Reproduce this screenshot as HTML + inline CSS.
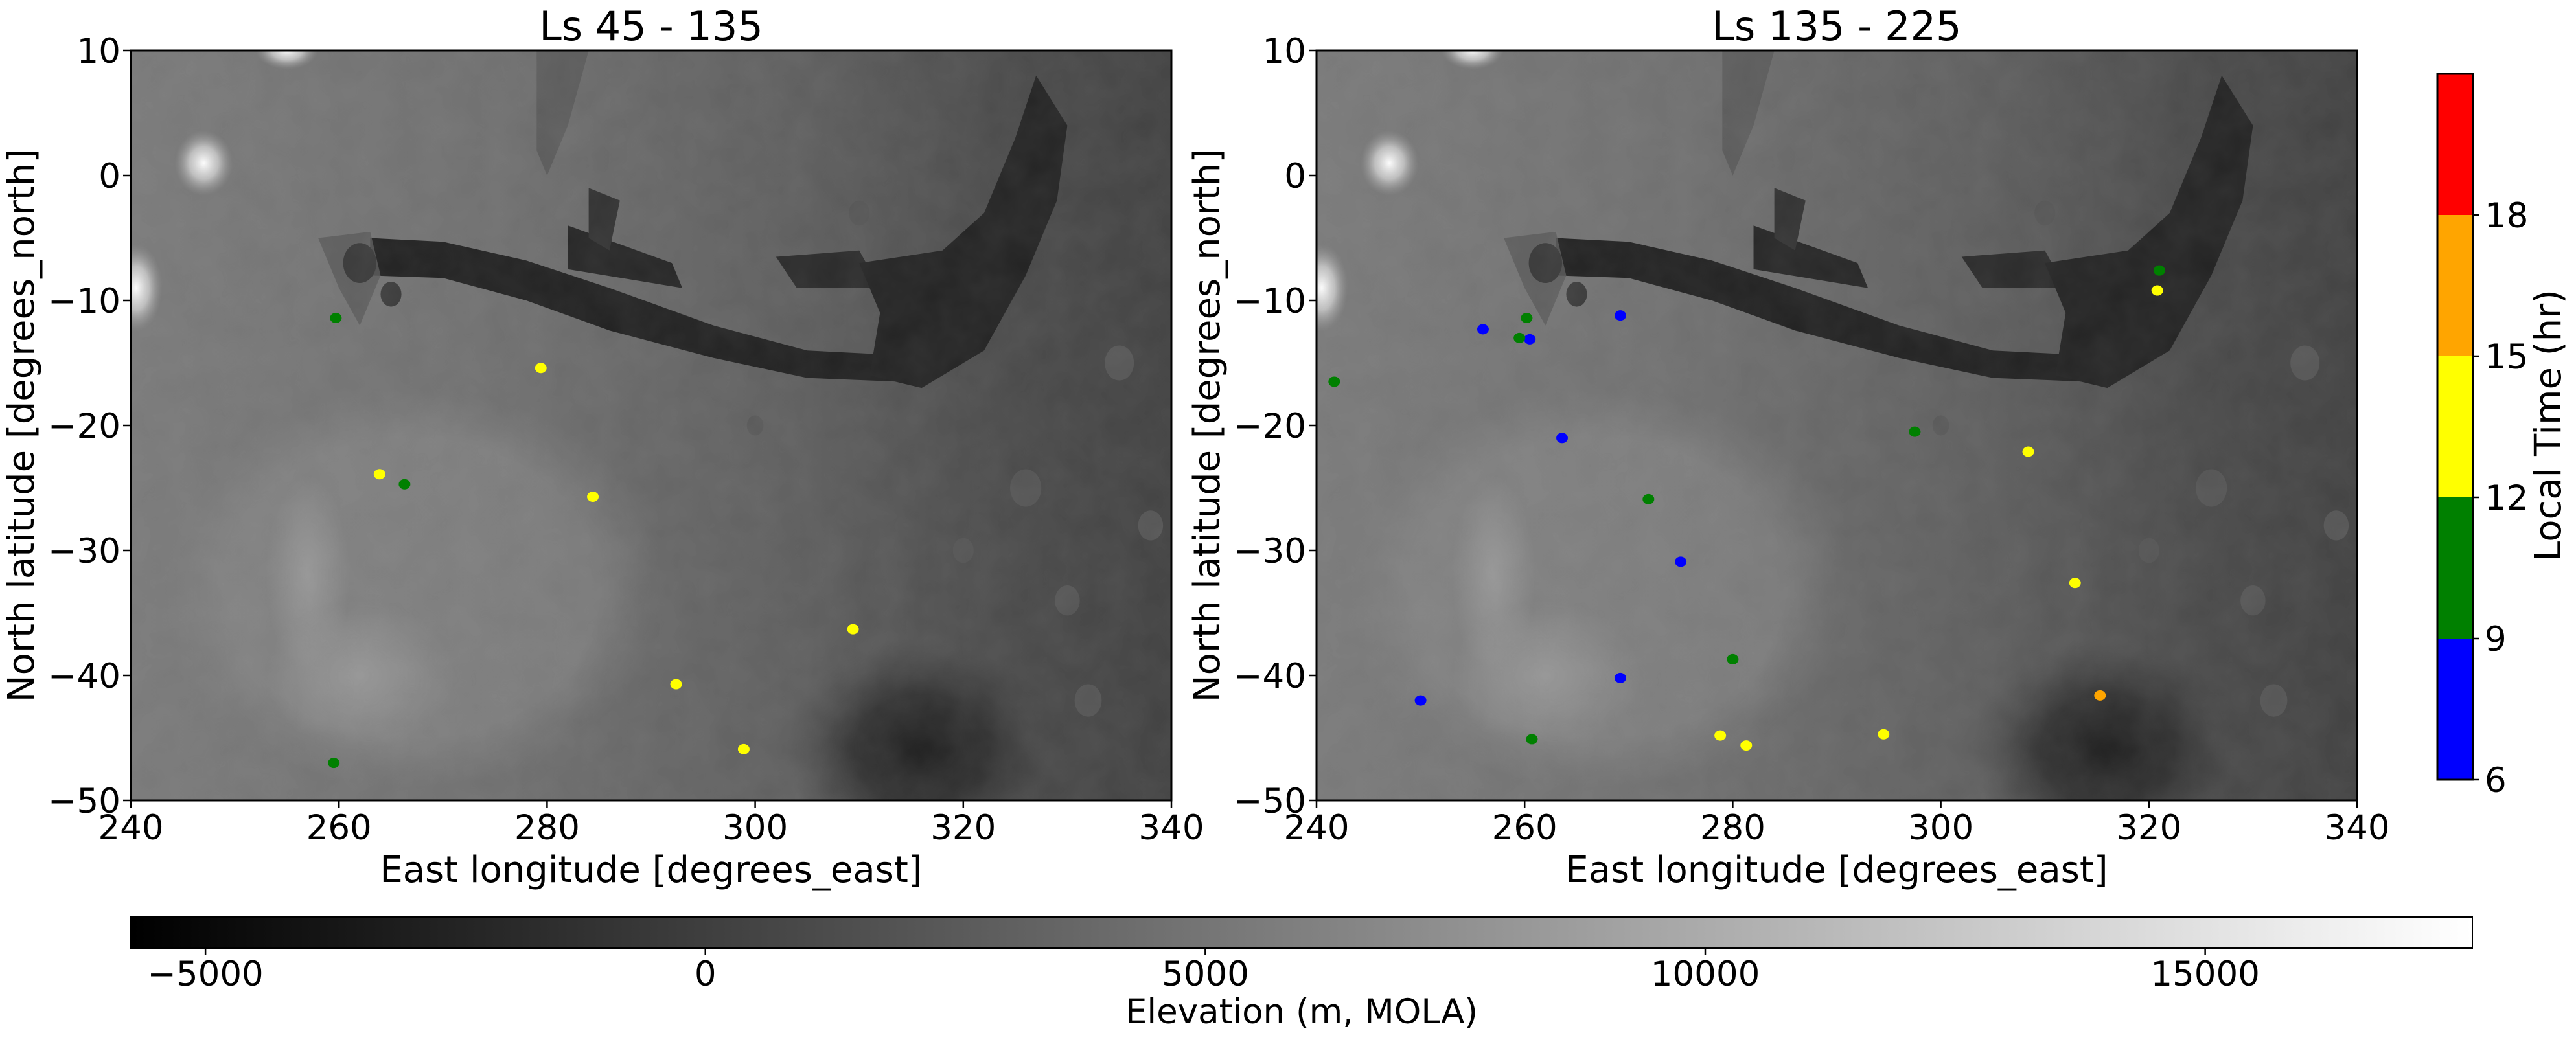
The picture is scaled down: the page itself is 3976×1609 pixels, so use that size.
<!DOCTYPE html>
<html><head><meta charset="utf-8"><style>
html,body{margin:0;padding:0;background:#fff;}
svg{display:block;font-family:"DejaVu Sans","Liberation Sans",sans-serif;}
</style></head><body>
<svg id="fig" width="3976" height="1609" viewBox="0 0 3976 1609">
<defs>
<linearGradient id="baseG" x1="0" y1="0" x2="1" y2="0">
<stop offset="0" stop-color="#7a7a7a"/><stop offset="0.35" stop-color="#707070"/><stop offset="0.65" stop-color="#5e5e5e"/><stop offset="0.85" stop-color="#4a4a4a"/><stop offset="1" stop-color="#424242"/></linearGradient>
<radialGradient id="brightG"><stop offset="0" stop-color="#fff"/><stop offset="0.5" stop-color="#d0d0d0" stop-opacity="0.8"/><stop offset="1" stop-color="#999" stop-opacity="0"/></radialGradient>
<radialGradient id="plateauG"><stop offset="0" stop-color="#8a8a8a" stop-opacity="0.5"/><stop offset="0.75" stop-color="#8e8e8e" stop-opacity="0.45"/><stop offset="1" stop-color="#888" stop-opacity="0"/></radialGradient>
<radialGradient id="lightG"><stop offset="0" stop-color="#a0a0a0" stop-opacity="0.7"/><stop offset="1" stop-color="#a0a0a0" stop-opacity="0"/></radialGradient>
<radialGradient id="basinG"><stop offset="0" stop-color="#1e1e1e"/><stop offset="0.5" stop-color="#2e2e2e" stop-opacity="0.85"/><stop offset="1" stop-color="#444" stop-opacity="0"/></radialGradient>
<filter id="noise"><feTurbulence type="fractalNoise" baseFrequency="0.02" numOctaves="3" seed="4"/><feColorMatrix type="matrix" values="0 0 0 0 0.5  0 0 0 0 0.5  0 0 0 0 0.5  0 0 0 0.25 0"/></filter>
<clipPath id="clipP"><rect x="0" y="0" width="1606" height="1158"/></clipPath>
<linearGradient id="elevG" x1="0" y1="0" x2="1" y2="0"><stop offset="0" stop-color="#000"/><stop offset="1" stop-color="#fff"/></linearGradient>
<g id="mapBg">
<rect x="0" y="0" width="1606" height="1158" fill="url(#baseG)"/>
<g transform="matrix(16.06,0,0,-19.3,-3854.4,193)">
<ellipse cx="267" cy="-33" rx="24" ry="16" fill="url(#plateauG)"/>
<ellipse cx="262" cy="-40" rx="9" ry="6" fill="url(#lightG)"/>
<ellipse cx="257" cy="-32" rx="4" ry="8" fill="url(#lightG)"/>
<ellipse cx="247" cy="1" rx="2.8" ry="2.6" fill="url(#brightG)"/>
<ellipse cx="240.5" cy="-9" rx="2.5" ry="3.5" fill="url(#brightG)"/>
<ellipse cx="255" cy="10" rx="3" ry="1.5" fill="url(#brightG)"/>
<ellipse cx="316" cy="-46" rx="13" ry="9" fill="url(#basinG)"/>
<polygon points="279,10 284,10 282,4 280,0 279,2" fill="#555" opacity="0.7"/>
<polygon points="263,-5 270,-5.3 278,-6.8 286,-9 296,-12 305,-14 312,-14.3 316,-13 314,-16.5 305,-16.2 296,-14.6 286,-12.4 278,-10 270,-8.2 263,-8" fill="#222"/>
<polygon points="282,-4 292,-7 293,-9 282,-7.5" fill="#262626"/>
<polygon points="302,-6.5 310,-6 312,-9 304,-9" fill="#2a2a2a"/>
<polygon points="310,-7 318,-6 322,-3 325,3 327,8 330,4 329,-2 326,-8 322,-14 316,-17 311,-16 312,-11" fill="#242424"/>
<polygon points="284,-1 287,-2 286,-6 284,-5" fill="#333"/>
<polygon points="258,-5 263,-4.5 264,-8 262,-12 260,-9" fill="#5a5a5a" opacity="0.8"/>
<circle cx="262" cy="-7" r="1.6" fill="#3a3a3a"/><circle cx="265" cy="-9.5" r="1" fill="#3a3a3a"/>
<circle cx="310" cy="-3" r="1" fill="#555"/><circle cx="326" cy="-25" r="1.5" fill="#555"/><circle cx="330" cy="-34" r="1.2" fill="#555"/><circle cx="335" cy="-15" r="1.4" fill="#555"/>
<circle cx="320" cy="-30" r="1" fill="#555"/><circle cx="300" cy="-20" r="0.8" fill="#5a5a5a"/><circle cx="332" cy="-42" r="1.3" fill="#555"/><circle cx="338" cy="-28" r="1.2" fill="#555"/>
</g>
<rect x="0" y="0" width="1606" height="1158" filter="url(#noise)" opacity="0.4"/>
</g>
</defs>

<g id="panelL" transform="translate(202,78)">
<g clip-path="url(#clipP)"><use href="#mapBg"/></g>
<g id="ptsL"></g>
<rect x="0" y="0" width="1606" height="1158" fill="none" stroke="#000" stroke-width="3"/>
</g>
<g id="panelR" transform="translate(2032,78)">
<g clip-path="url(#clipP)"><use href="#mapBg"/></g>
<g id="ptsR"></g>
<rect x="0" y="0" width="1606" height="1158" fill="none" stroke="#000" stroke-width="3"/>
</g>
<g id="axesText" font-size="53" fill="#000"></g>
<text x="1005" y="62" font-size="62" text-anchor="middle">Ls 45 - 135</text>
<text x="2835" y="62" font-size="62" text-anchor="middle">Ls 135 - 225</text>
<text x="1005" y="1362" font-size="56" text-anchor="middle">East longitude [degrees_east]</text>
<text x="2835" y="1362" font-size="56" text-anchor="middle">East longitude [degrees_east]</text>
<text transform="translate(52,657) rotate(-90)" font-size="56" text-anchor="middle">North latitude [degrees_north]</text>
<text transform="translate(1882,657) rotate(-90)" font-size="56" text-anchor="middle">North latitude [degrees_north]</text>
<g id="ltBar"></g>
<text transform="translate(3952,657) rotate(-90)" font-size="56" text-anchor="middle">Local Time (hr)</text>
<g id="elevBar">
<rect x="202" y="1416" width="3614" height="48" fill="url(#elevG)" stroke="#000" stroke-width="2"/>
</g>
<text x="2009" y="1580" font-size="53" text-anchor="middle">Elevation (m, MOLA)</text>
</svg>
<script>
const NS='http://www.w3.org/2000/svg';
const xTicks=[240,260,280,300,320,340];
const yTicks=[10,0,-10,-20,-30,-40,-50];
const leftLon=[259.7,259.5,266.3,279.4,263.9,284.4,309.4,292.4,298.9];
const leftLat=[-11.4,-47.0,-24.7,-15.4,-23.9,-25.7,-36.3,-40.7,-45.9];
const leftHour=[10.5,10.5,10.5,13.5,13.5,13.5,13.5,13.5,13.5];
const rightLon=[256,260.5,269.2,263.6,275,269.2,250,260.2,259.5,241.7,321,297.5,271.9,280,260.7,320.8,308.4,312.9,278.8,281.3,294.5,315.3];
const rightLat=[-12.3,-13.1,-11.2,-21.0,-30.9,-40.2,-42.0,-11.4,-13.0,-16.5,-7.6,-20.5,-25.9,-38.7,-45.1,-9.2,-22.1,-32.6,-44.8,-45.6,-44.7,-41.6];
const rightHour=[7.5,7.5,7.5,7.5,7.5,7.5,7.5,10.5,10.5,10.5,10.5,10.5,10.5,10.5,10.5,13.5,13.5,13.5,13.5,13.5,13.5,16.5];
const ltBounds=[6,9,12,15,18,21];
const ltColors=['#0000ff','#008000','#ffff00','#ffa500','#ff0000'];
const ltTicks=[6,9,12,15,18];
const elevTicks=[-5000,0,5000,10000,15000];
const elevMin=-5746, elevMax=17672;

const W=1606,H=1158;
const xs=lon=>(lon-240)/100*W;
const ys=lat=>(10-lat)/60*H;
function colorFor(h){for(let i=0;i<ltColors.length;i++){if(h>=ltBounds[i]&&h<ltBounds[i+1])return ltColors[i];}return ltColors[ltColors.length-1];}
function mk(tag,attrs,parent){const e=document.createElementNS(NS,tag);for(const k in attrs)e.setAttribute(k,attrs[k]);parent.appendChild(e);return e;}

function drawPts(gid,lons,lats,hrs){
  const g=document.getElementById(gid);
  for(let i=0;i<lons.length;i++){
    const c=mk('ellipse',{cx:xs(lons[i]),cy:ys(lats[i]),rx:9,ry:8,fill:colorFor(hrs[i])},g);
    
    
  }
}
drawPts('ptsL',leftLon,leftLat,leftHour);
drawPts('ptsR',rightLon,rightLat,rightHour);

const at=document.getElementById('axesText');
[202,2032].forEach((x0,pi)=>{
  xTicks.forEach(v=>{
    const x=x0+xs(v);
    const l=mk('line',{x1:x,y1:78+H,x2:x,y2:78+H+12,stroke:'#000','stroke-width':2.5},at);
    
    
    const t=mk('text',{x:x,y:1296,'text-anchor':'middle'},at);
    t.textContent=v;
    
    
  });
  yTicks.forEach(v=>{
    const y=78+ys(v);
    const l=mk('line',{x1:x0-12,y1:y,x2:x0,y2:y,stroke:'#000','stroke-width':2.5},at);
    
    
    const t=mk('text',{x:x0-16,y:y+19,'text-anchor':'end'},at);
    t.textContent=String(v).replace('-','\u2212');
    
    
  });
});

const lb=document.getElementById('ltBar');
const cbTop=114,cbBot=1204,cbX=3762,cbW=55;
const cy=h=>cbBot-(h-6)/15*(cbBot-cbTop);
for(let i=0;i<ltColors.length;i++){
  const r=mk('rect',{x:cbX,y:cy(ltBounds[i+1]),width:cbW,height:cy(ltBounds[i])-cy(ltBounds[i+1]),fill:ltColors[i]},lb);
  
  
}
mk('rect',{x:cbX,y:cbTop,width:cbW,height:cbBot-cbTop,fill:'none',stroke:'#000','stroke-width':3},lb);
ltTicks.forEach(v=>{
  const y=cy(v);
  mk('line',{x1:cbX+cbW,y1:y,x2:cbX+cbW+10,y2:y,stroke:'#000','stroke-width':2.5},lb);
  const t=mk('text',{x:cbX+cbW+18,y:y+19,'font-size':53},lb);
  t.textContent=v;
  
  
});

const eb=document.getElementById('elevBar');
const ex=v=>202+(v-elevMin)/(elevMax-elevMin)*3614;
elevTicks.forEach(v=>{
  const x=ex(v);
  mk('line',{x1:x,y1:1464,x2:x,y2:1474,stroke:'#000','stroke-width':2.5},eb);
  const t=mk('text',{x:x,y:1522,'font-size':53,'text-anchor':'middle'},eb);
  t.textContent=String(v).replace('-','\u2212');
  
  
});
</script>
</body></html>
